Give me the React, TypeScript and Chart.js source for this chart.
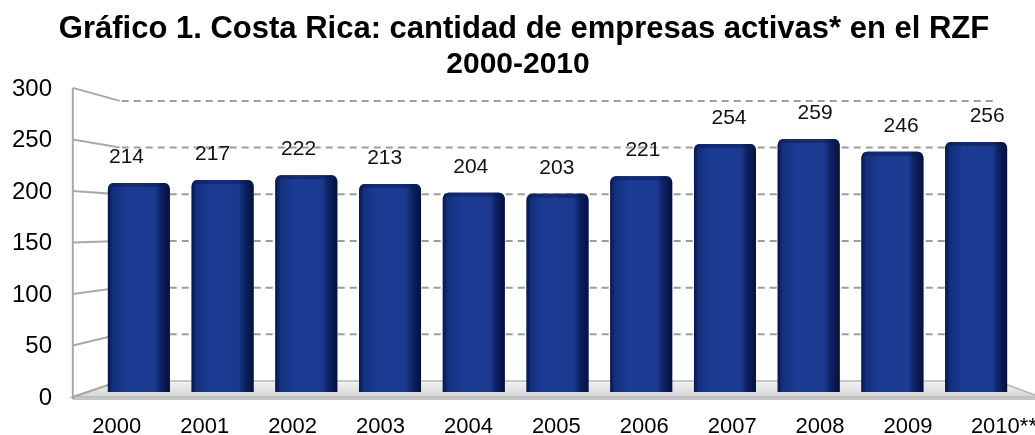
import React, { useEffect, useRef } from "react";
import { Chart, registerables } from "chart.js";

Chart.register(...registerables);

const titleLines = [
  "Gráfico 1. Costa Rica: cantidad de empresas activas* en el RZF",
  "2000-2010",
];
const categories = ["2000", "2001", "2002", "2003", "2004", "2005", "2006", "2007", "2008", "2009", "2010**"];
const empresas = [214, 217, 222, 213, 204, 203, 221, 254, 259, 246, 256];
const yTicks = [0, 50, 100, 150, 200, 250, 300];

const FONT = '"Liberation Sans", Arial, Helvetica, sans-serif';

const threeD = {
  id: "threeD",
  beforeDatasetsDraw(chart: any) {
    const { ctx, chartArea, scales } = chart;
    const { left, right, bottom } = chartArea;
    const y = scales.y;
    const cx = left + (right - left) * 0.525;
    const fx = (p: number) => cx + (p - cx) * 1.05;
    const bx = (p: number) => cx + (p - cx) * 0.953;
    const fy = (p: number) => bottom + 5 + (p - bottom) * 1.055;
    const by = (p: number) => bottom - 11 + (p - bottom) * 0.956;
    ctx.save();
    // floor
    ctx.beginPath();
    ctx.moveTo(fx(left), fy(bottom));
    ctx.lineTo(fx(right), fy(bottom));
    ctx.lineTo(bx(right), by(bottom));
    ctx.lineTo(bx(left), by(bottom));
    ctx.closePath();
    const fg = ctx.createLinearGradient(0, by(bottom), 0, fy(bottom));
    fg.addColorStop(0, "#f2f2f2");
    fg.addColorStop(1, "#d6d6d6");
    ctx.fillStyle = fg;
    ctx.fill();
    ctx.strokeStyle = "#b8b8b8";
    ctx.lineWidth = 1.5;
    ctx.stroke();
    ctx.fillStyle = "#c4c4c4";
    ctx.fillRect(fx(left), fy(bottom), fx(right) - fx(left), 3);
    // left wall front edge
    ctx.strokeStyle = "#a8a8a8";
    ctx.lineWidth = 2;
    ctx.beginPath();
    ctx.moveTo(fx(left), fy(y.getPixelForValue(yTicks[yTicks.length - 1])));
    ctx.lineTo(fx(left), fy(bottom) + 2);
    ctx.stroke();
    // left wall lines
    yTicks.forEach((v) => {
      const p = y.getPixelForValue(v);
      ctx.beginPath();
      ctx.moveTo(fx(left), fy(p));
      ctx.lineTo(bx(left), by(p));
      ctx.stroke();
    });
    // back wall dashed lines
    ctx.setLineDash([7, 5]);
    ctx.strokeStyle = "#9c9c9c";
    yTicks.forEach((v) => {
      if (v === 0) return;
      const p = y.getPixelForValue(v);
      ctx.beginPath();
      ctx.moveTo(bx(left) + 2, by(p));
      ctx.lineTo(bx(right), by(p));
      ctx.stroke();
    });
    ctx.setLineDash([]);
    ctx.restore();
  },
  afterDatasetsDraw(chart: any) {
    const { ctx, chartArea } = chart;
    const { left, right } = chartArea;
    const cx = left + (right - left) * 0.525;
    const meta = chart.getDatasetMeta(0);
    ctx.save();
    meta.data.forEach((bar: any, i: number) => {
      const w = bar.width;
      const L = bar.x - w / 2;
      const h = bar.base - bar.y;
      const g = ctx.createLinearGradient(L, 0, L + w, 0);
      g.addColorStop(0, "#07154d");
      g.addColorStop(0.08, "#13307f");
      g.addColorStop(0.3, "#1c3c94");
      g.addColorStop(0.76, "#1b3a90");
      g.addColorStop(0.85, "#0e2266");
      g.addColorStop(1, "#05113c");
      ctx.beginPath();
      ctx.roundRect(L, bar.y, w, h, [6, 6, 0, 0]);
      ctx.fillStyle = g;
      ctx.fill();
      // top edge
      ctx.beginPath();
      ctx.roundRect(L + 1, bar.y, w - 2, 4, [5, 5, 0, 0]);
      ctx.fillStyle = "rgba(10,25,80,0.45)";
      ctx.fill();
      // value label
      ctx.fillStyle = "#111";
      ctx.font = `21px ${FONT}`;
      ctx.textAlign = "center";
      ctx.textBaseline = "alphabetic";
      const lx = cx + (bar.x - cx) * 1.028;
      ctx.fillText(String(empresas[i]), lx, bar.y - 20);
    });
    ctx.restore();
  },
  afterDraw(chart: any) {
    const { ctx, chartArea, scales } = chart;
    const { left, right, bottom } = chartArea;
    const y = scales.y;
    const x = scales.x;
    const cx = left + (right - left) * 0.525;
    const fx = (p: number) => cx + (p - cx) * 1.05;
    const fy = (p: number) => bottom + 5 + (p - bottom) * 1.055;
    ctx.save();
    ctx.fillStyle = "#000";
    // y labels
    ctx.font = `24px ${FONT}`;
    ctx.textAlign = "right";
    ctx.textBaseline = "middle";
    yTicks.forEach((v) => {
      ctx.fillText(String(v), 52, fy(y.getPixelForValue(v)) + 1);
    });
    // x labels
    ctx.font = `22px ${FONT}`;
    ctx.textAlign = "center";
    ctx.textBaseline = "alphabetic";
    categories.forEach((c, i) => {
      const px = fx(x.getPixelForValue(i));
      ctx.fillText(c, px + (c.endsWith("**") ? 8 : 0), 433);
    });
    // title
    ctx.font = `bold 31px ${FONT}`;
    ctx.fillText(titleLines[0], 524, 38);
    ctx.font = `bold 30px ${FONT}`;
    ctx.fillText(titleLines[1], 518, 73);
    ctx.restore();
  },
};

export default function App() {
  const ref = useRef<HTMLCanvasElement | null>(null);
  useEffect(() => {
    if (!ref.current) return;
    const chart = new Chart(ref.current, {
      type: "bar",
      data: {
        labels: categories,
        datasets: [
          {
            data: empresas,
            backgroundColor: "#1a388e",
            borderRadius: { topLeft: 6, topRight: 6, bottomLeft: 0, bottomRight: 0 },
            borderSkipped: "bottom",
            barPercentage: 0.74,
            categoryPercentage: 1,
          },
        ],
      },
      options: {
        animation: false,
        responsive: false,
        maintainAspectRatio: false,
        layout: { padding: { left: 97, right: 17, top: 99, bottom: 43 } },
        plugins: { legend: { display: false }, tooltip: { enabled: false }, title: { display: false } },
        scales: {
          x: { display: false, offset: true },
          y: { display: false, min: 0, max: 300 },
        },
      },
      plugins: [threeD],
    });
    return () => chart.destroy();
  }, []);
  return (
    <div style={{ position: "absolute", left: 0, top: 0, width: 1035, height: 435, background: "#fff" }}>
      <canvas ref={ref} width={1035} height={435} style={{ width: 1035, height: 435 }} />
    </div>
  );
}
